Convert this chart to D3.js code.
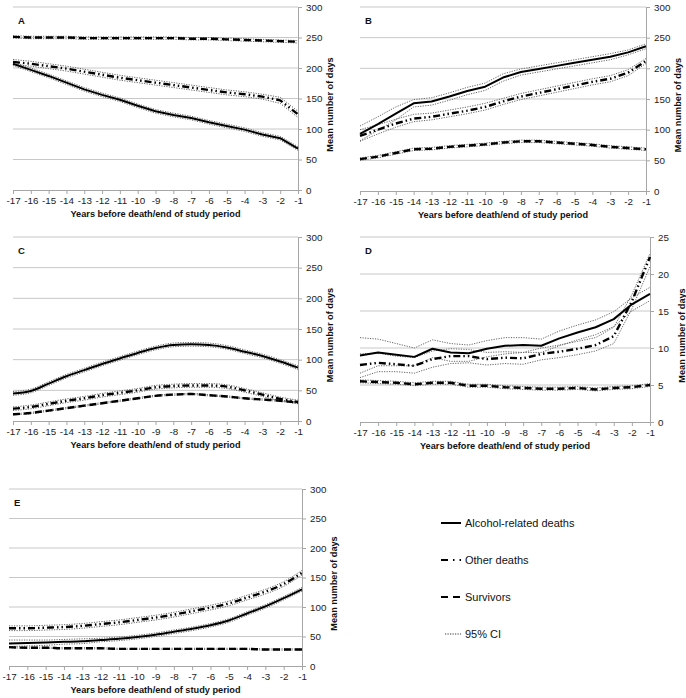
<!DOCTYPE html>
<html><head><meta charset="utf-8">
<script src="https://cdn.jsdelivr.net/npm/d3@7"></script>
<style>body{margin:0;background:#fff}svg{display:block}</style>
</head><body>
<svg id="c" width="686" height="698"></svg>
<script>
// ---------- data ----------
const years = [-17,-16,-15,-14,-13,-12,-11,-10,-9,-8,-7,-6,-5,-4,-3,-2,-1];

const A_alc    = [207,197,187,176,165,156,148,138,129,123,118,111,105,99,91,85,68];
const A_alc_lo = [204,194,184,173,162,153,145,135,126,120,115,108,102,96,88,82,65];
const A_alc_hi = [210,200,190,179,168,159,151,141,132,126,121,114,108,102,94,88,71];
const A_oth    = [210,207,203,199,194,189,184,180,176,172,168,164,160,157,153,147,124];
const A_oth_lo = [206,203,199,195,190,185,180,176,172,168,164,160,156,153,149,142,119];
const A_oth_hi = [214,211,207,203,198,193,188,184,180,176,172,168,164,161,157,152,129];
const A_sur    = [251,250,250,250,249,249,249,249,249,249,248,248,247,246,245,244,243];
const A_sur_lo = [249,248,248,248,247,247,247,247,247,247,246,246,245,244,243,242,241];
const A_sur_hi = [253,252,252,252,251,251,251,251,251,251,250,250,249,248,247,246,245];

const B_alc    = [93,109,126,143,146,154,163,170,185,194,199,204,209,214,219,226,236];
const B_alc_lo = [82,99,116,137,140,148,157,164,179,189,194,199,204,209,214,222,232];
const B_alc_hi = [106,121,137,149,152,160,169,176,191,199,204,209,214,219,224,230,240];
const B_oth    = [90,100,110,118,121,126,131,137,146,154,160,166,172,178,183,193,212];
const B_oth_lo = [81,93,104,113,116,121,126,132,141,149,155,161,167,173,178,188,208];
const B_oth_hi = [100,108,117,125,127,132,137,143,151,159,165,171,177,183,188,198,216];
const B_sur    = [52,56,62,68,69,72,74,76,79,81,81,79,77,75,72,70,68];
const B_sur_lo = [50,54,60,66,67,70,72,74,77,79,79,77,75,73,70,68,66];
const B_sur_hi = [54,58,64,70,71,74,76,78,81,83,83,81,79,77,74,72,70];

const C_alc    = [45,49,61,73,83,93,102,111,119,124,125,124,120,113,106,97,87];
const C_alc_lo = [42,46,58,70,80,90,99,108,116,121,122,121,117,110,103,94,84];
const C_alc_hi = [48,52,64,76,86,96,105,114,122,127,128,127,123,116,109,100,90];
const C_oth    = [20,23,28,33,37,42,46,50,55,57,58,58,56,50,43,36,31];
const C_oth_lo = [17,20,25,30,34,39,43,47,52,54,55,55,53,47,40,33,28];
const C_oth_hi = [23,26,31,36,40,45,49,53,58,60,61,61,59,53,46,39,34];
const C_sur    = [11,13,17,21,25,29,33,37,41,43,44,42,40,37,35,33,30];
const C_sur_lo = [10,12,16,20,24,28,32,36,40,42,43,41,39,36,34,32,29];
const C_sur_hi = [12,14,18,22,26,30,34,38,42,44,45,43,41,38,36,34,31];

const D_alc    = [9.0,9.4,9.1,8.8,9.9,9.4,9.3,9.9,10.3,10.4,10.3,11.3,12.1,12.8,13.9,15.9,17.3];
const D_alc_lo = [6.6,7.6,7.6,7.6,8.7,8.2,8.2,8.8,9.2,9.4,9.4,10.3,11.1,11.8,12.9,15.0,16.4];
const D_alc_hi = [11.4,11.2,10.6,10.0,11.1,10.6,10.4,11.0,11.4,11.4,11.2,12.3,13.1,13.8,14.9,16.8,18.2];
const D_oth    = [7.7,8.0,7.8,7.6,8.5,8.9,8.9,8.5,8.7,8.6,9.2,9.5,9.9,10.4,11.6,16.3,22.3];
const D_oth_lo = [6.0,6.8,6.8,6.6,7.4,7.9,8.0,7.7,7.9,7.8,8.4,8.7,9.1,9.6,10.6,15.3,21.0];
const D_oth_hi = [9.2,9.3,8.9,8.7,9.6,9.9,9.8,9.4,9.5,9.4,10.0,10.4,10.9,11.4,12.8,17.2,22.8];
const D_sur    = [5.5,5.4,5.3,5.1,5.3,5.3,4.9,4.9,4.7,4.6,4.5,4.5,4.6,4.4,4.6,4.7,5.0];
const D_sur_lo = [5.3,5.2,5.1,4.9,5.1,5.1,4.7,4.7,4.5,4.4,4.3,4.3,4.4,4.2,4.4,4.5,4.8];
const D_sur_hi = [5.7,5.6,5.5,5.3,5.5,5.5,5.1,5.1,4.9,4.8,4.7,4.7,4.8,4.6,4.8,4.9,5.2];

const E_alc    = [38,39,40,41,42,44,46,49,53,58,63,69,77,89,101,115,130];
const E_alc_lo = [33,34,35,37,38,41,43,46,50,55,60,66,74,86,98,112,127];
const E_alc_hi = [44,44,44,45,46,47,49,52,56,61,66,72,80,92,104,118,133];
const E_oth    = [64,64,65,66,68,71,74,78,82,87,93,99,106,116,126,139,158];
const E_oth_lo = [60,60,61,62,64,67,70,74,78,83,89,95,102,112,122,135,154];
const E_oth_hi = [68,68,69,70,72,75,78,82,86,91,97,103,110,120,130,143,162];
const E_sur    = [32,31,31,30,30,30,29,29,29,29,29,29,29,29,28,28,28];
const E_sur_lo = [31,30,30,29,29,29,28,28,28,28,28,28,28,28,27,27,27];
const E_sur_hi = [33,32,32,31,31,31,30,30,30,30,30,30,30,30,29,29,29];

const yTicksMain = [0,50,100,150,200,250,300];
const yTicksD = [0,5,10,15,20,25];
const legendLabels = ["Alcohol-related deaths","Other deaths","Survivors","95% CI"];
const xTitle = "Years before death/end of study period";
const yTitle = "Mean number of days";

// ---------- layout ----------
const panels = [
  {id:"A", box:[13,7,298,190], ticks:yTicksMain, smooth:false,
   alc:A_alc, alcLo:A_alc_lo, alcHi:A_alc_hi, oth:A_oth, othLo:A_oth_lo, othHi:A_oth_hi, sur:A_sur, surLo:A_sur_lo, surHi:A_sur_hi},
  {id:"B", box:[360,7,646,191], ticks:yTicksMain, smooth:false,
   alc:B_alc, alcLo:B_alc_lo, alcHi:B_alc_hi, oth:B_oth, othLo:B_oth_lo, othHi:B_oth_hi, sur:B_sur, surLo:B_sur_lo, surHi:B_sur_hi},
  {id:"C", box:[13,237,298,421], ticks:yTicksMain, smooth:true,
   alc:C_alc, alcLo:C_alc_lo, alcHi:C_alc_hi, oth:C_oth, othLo:C_oth_lo, othHi:C_oth_hi, sur:C_sur, surLo:C_sur_lo, surHi:C_sur_hi},
  {id:"D", box:[360,237,650,422], ticks:yTicksD, smooth:false,
   alc:D_alc, alcLo:D_alc_lo, alcHi:D_alc_hi, oth:D_oth, othLo:D_oth_lo, othHi:D_oth_hi, sur:D_sur, surLo:D_sur_lo, surHi:D_sur_hi},
  {id:"E", box:[9,489,302,666], ticks:yTicksMain, smooth:true,
   alc:E_alc, alcLo:E_alc_lo, alcHi:E_alc_hi, oth:E_oth, othLo:E_oth_lo, othHi:E_oth_hi, sur:E_sur, surLo:E_sur_lo, surHi:E_sur_hi}
];

const FONT = "'Liberation Sans', Arial, sans-serif";
const svg = d3.select("#c");
const GRID = "#c8c8c8", AXIS = "#a6a6a6";
const styles = {
  alc: {w:2, dash:null, leg:null},
  oth: {w:2.4, dash:"7,3,1.5,3,1.5,3", leg:"7,5,1.5,5,1.5,3"},
  sur: {w:2.4, dash:"7,4", leg:"7,5"},
  ci:  {w:1, dash:"1.2,1.3", leg:"1.2,1.3"}
};
const CI_COL = "#666";

panels.forEach(p => {
  const [L,T,R,B] = p.box;
  const ymax = p.ticks[p.ticks.length-1];
  const x = d3.scaleLinear().domain([-17,-1]).range([L,R]);
  const y = d3.scaleLinear().domain([0,ymax]).range([B,T]);
  const g = svg.append("g");

  // gridlines
  g.selectAll(".grid").data(p.ticks.filter(t=>t>0)).join("line")
    .attr("x1",L).attr("x2",R).attr("y1",d=>y(d)).attr("y2",d=>y(d))
    .attr("stroke",GRID).attr("stroke-width",1);

  // right axis
  const ya = d3.axisRight(y).tickValues(p.ticks).tickSize(4).tickPadding(4);
  const yg = g.append("g").attr("transform",`translate(${R},0)`).call(ya);
  yg.select(".domain").attr("stroke",AXIS);
  yg.selectAll(".tick line").attr("stroke",AXIS);
  yg.selectAll("text").attr("font-family",FONT).attr("font-size","9.8px").attr("fill","#222");

  // bottom axis
  const xa = d3.axisBottom(x).tickValues(years).tickSize(4).tickPadding(3).tickFormat(d=>"-"+Math.abs(d));
  const xg = g.append("g").attr("transform",`translate(0,${B})`).call(xa);
  xg.select(".domain").attr("stroke",AXIS);
  xg.selectAll(".tick line").attr("stroke",AXIS);
  xg.selectAll("text").attr("font-family",FONT).attr("font-size","9.8px").attr("fill","#222");

  // titles
  g.append("text").attr("x",(L+R)/2).attr("y",B+27).attr("text-anchor","middle")
    .attr("font-family",FONT).attr("font-weight","bold").attr("font-size","9.2px").attr("fill","#111").text(xTitle);
  const tx = R+32, ty = (T+B)/2 + 6;
  g.append("text").attr("transform",`translate(${tx},${ty}) rotate(-90)`).attr("text-anchor","middle")
    .attr("dy","0.35em")
    .attr("font-family",FONT).attr("font-weight","bold").attr("font-size","9.2px").attr("fill","#111").text(yTitle);
  g.append("text").attr("x",L+5).attr("y",T+17).attr("font-family",FONT).attr("font-weight","bold")
    .attr("font-size","9.5px").attr("fill","#111").text(p.id);

  const line = d3.line().x((d,i)=>x(years[i])).y(d=>y(d)).curve(p.smooth?d3.curveMonotoneX:d3.curveLinear);
  const draw = (arr, st, col) => g.append("path").attr("d",line(arr)).attr("fill","none")
      .attr("stroke",col||"#000").attr("stroke-width",st.w).attr("stroke-dasharray",st.dash)
      .attr("stroke-linejoin","round");

  // CI lines
  [p.alcLo,p.alcHi,p.othLo,p.othHi,p.surLo,p.surHi].forEach(a=>draw(a,styles.ci,CI_COL));
  draw(p.sur, styles.sur);
  draw(p.oth, styles.oth);
  draw(p.alc, styles.alc);
});

// legend
const lg = svg.append("g");
const legY = [523,560,597,634];
const legKeys = ["alc","oth","sur","ci"];
legKeys.forEach((k,i)=>{
  const st = styles[k];
  lg.append("line").attr("x1",k==="ci"?445:441).attr("x2",461).attr("y1",legY[i]).attr("y2",legY[i])
    .attr("stroke",k==="ci"?"#333":"#000").attr("stroke-width",k==="alc"?2:(k==="ci"?1:2.2)).attr("stroke-dasharray",st.leg);
  lg.append("text").attr("x",465).attr("y",legY[i]).attr("dy","0.35em")
    .attr("font-family",FONT).attr("font-size","11px").attr("fill","#111").text(legendLabels[i]);
});
</script>
</body></html>
